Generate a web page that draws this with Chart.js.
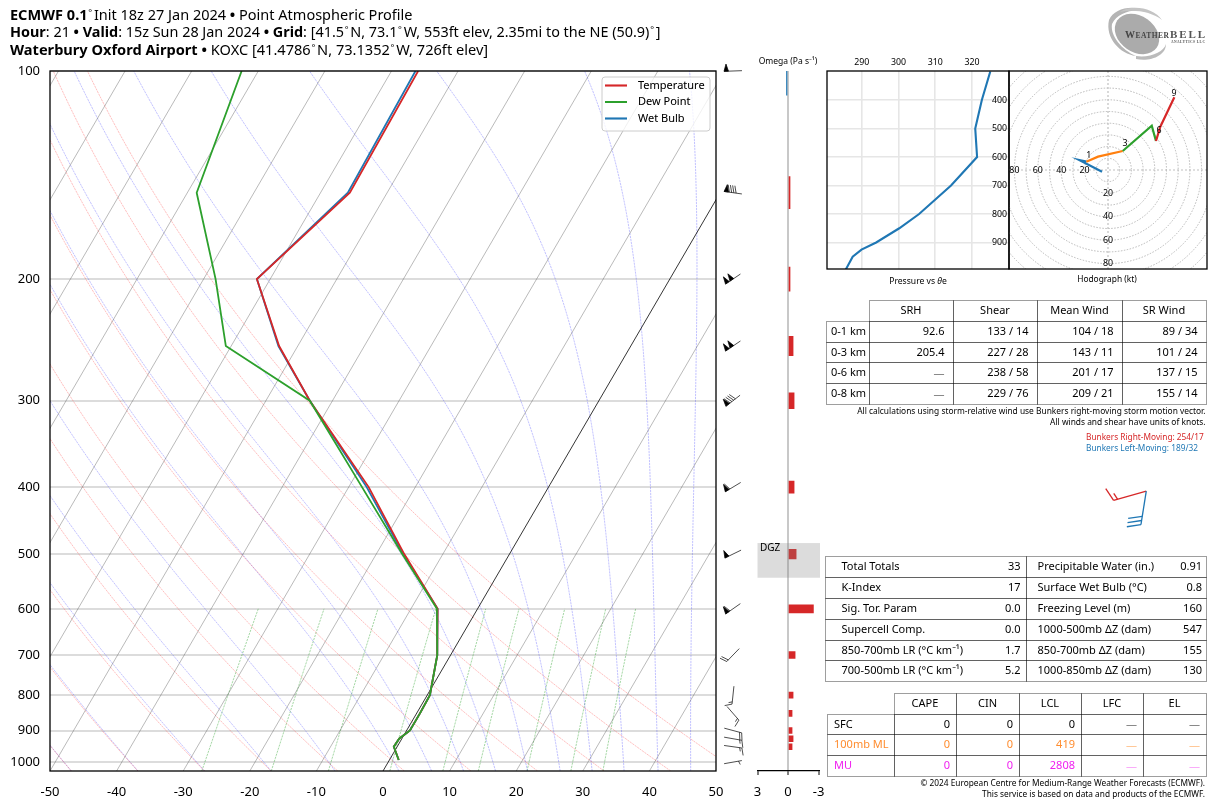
<!DOCTYPE html>
<html><head><meta charset="utf-8">
<script src="https://cdn.jsdelivr.net/npm/chart.js@4"></script>
<style>
html,body{margin:0;padding:0;background:#fff;width:1226px;height:808px;overflow:hidden;font-family:"Noto Sans",sans-serif;color:#000}
canvas{position:absolute;left:0;top:0}
.t{position:absolute;white-space:nowrap;line-height:1}
.c{position:absolute;box-sizing:border-box;border:1px solid rgba(0,0,0,.38)}
</style></head><body>
<script>
// ---- profile data (deg C at pressure levels, hPa)
const tempLevels=[100,150,200,250,300,400,500,600,700,800,850,900,925,950,993];
const temperature=[-56,-55.6,-62,-52.8,-43.4,-27,-15.8,-6,-2,0.4,0.5,0.5,-0.4,-0.5,1.4];
const dewPoint=[-82.5,-78.6,-68.2,-60.8,-43.4,-28,-16.1,-6.1,-2,0.4,0.5,0.5,-0.4,-0.5,1.4];
const wetBulb=[-56.4,-55.9,-62,-52.9,-43.4,-27.3,-15.95,-6,-2,0.4,0.5,0.5,-0.4,-0.5,1.4];
const pressureTicks=[100,200,300,400,500,600,700,800,900,1000];
const tempTicks=[-50,-40,-30,-20,-10,0,10,20,30,40,50];
// ---- reference-grid families of the diagram (values at the base of the diagram)
const isotherms=[-170,-160,-150,-140,-130,-120,-110,-100,-90,-80,-70,-60,-50,-40,-30,-20,-10,10,20,30,40,50];
const dryBase=[-46.8,-36.8,-26.8,-16.8,-6.8,3.2,13.2,23.2,33.2,43.2,53.2];
const moistBase=[-46.8,-36.8,-26.8,-16.8,-7.2,2.4,7.3,12.1,16.9,21.7,26.6,31.4,36.2,41.3,46.2];
const mixingRatios=[0.0004,0.001,0.002,0.004,0.007,0.01,0.016,0.024,0.032];
// ---- wind barbs
const windLevels=[100,150,200,250,300,400,500,600,700,800,850,900,925,950,1000];
const windDir=[268,278,236,236,232,239,244,235,224,186,139,105,100,98,80];
const windSpeed=[50,90,100,100,90,60,50,60,20,15,15,20,15,15,5];
// ---- omega
const omegaLevels=[100,150,200,250,300,400,500,600,700,800,850,900,925,950];
const omega=[0.15,-0.2,-0.2,-0.5,-0.6,-0.6,-0.8,-2.5,-0.7,-0.5,-0.4,-0.4,-0.5,-0.4];
const omegaTicks=[3,0,-3];
const dgzLayer=[482,541];
// ---- theta-e profile
const thetaLevels=[300,400,500,600,700,800,850,900,925,950,1000];
const thetaE=[325,322.7,320.9,321.4,314.3,305.6,300.2,293.9,289.9,287.5,285.4];
const thetaTicks=[290,300,310,320];
const thetaPressureTicks=[400,500,600,700,800,900];
// ---- hodograph (u, v in kt)
const hodoU01=[-5.1,-24.3,-18.5];const hodoV01=[-1.5,8.4,7.1];
const hodoU13=[-18.5,-8.5,12.6];const hodoV13=[7.1,11.4,16.2];
const hodoU36=[12.6,37.4,41];const hodoV36=[16.2,37.8,24.8];
const hodoU69=[41,44.7,56.7];const hodoV69=[24.8,37,62.1];
const hodoMarks=['1','3','6','9'];
const hodoMarkU=[-16.5,14.5,43.5,56.5];const hodoMarkV=[12.5,22.5,34,65.5];
const hodoRingLabels=[20,40,60,80];
const bunkers=[{dir:254,speed:15,color:'#d62728'},{dir:189,speed:30,color:'#1f77b4'}];

// ---- texts
const srhHead=['SRH','Shear','Mean Wind','SR Wind'];
const srhRows=[['0-1 km','92.6','133 / 14','104 / 18','89 / 34'],['0-3 km','205.4','227 / 28','143 / 11','101 / 24'],['0-6 km','—','238 / 58','201 / 17','137 / 15'],['0-8 km','—','229 / 76','209 / 21','155 / 14']];
const idxRows=[['Total Totals','33','Precipitable Water (in.)','0.91'],['K-Index','17','Surface Wet Bulb (°C)','0.8'],['Sig. Tor. Param','0.0','Freezing Level (m)','160'],['Supercell Comp.','0.0','1000-500mb ΔZ (dam)','547'],['850-700mb LR (°C km⁻¹)','1.7','850-700mb ΔZ (dam)','155'],['700-500mb LR (°C km⁻¹)','5.2','1000-850mb ΔZ (dam)','130']];
const capeHead=['CAPE','CIN','LCL','LFC','EL'];
const capeRows=[['SFC','0','0','0','—','—'],['100mb ML','0','0','419','—','—'],['MU','0','0','2808','—','—']];
const capeColors=['#000','#ff8c2e','#f020f0'];
const capeDashColors=['#777','#ffc08a','#f8a0f8'];

const FONT='"Noto Sans"';
Chart.defaults.font.family=FONT;
Chart.defaults.animation=false;
Chart.defaults.responsive=false;
Chart.defaults.devicePixelRatio=1;
Chart.defaults.plugins.legend.display=false;
Chart.defaults.plugins.tooltip.enabled=false;

function newCanvas(){const c=document.createElement('canvas');c.width=1226;c.height=808;document.body.appendChild(c);return c.getContext('2d');}
function text(s,x,y,o={}){const d=document.createElement('div');d.className='t';d.innerHTML=s;d.style.left=x+'px';d.style.top=y+'px';
 d.style.fontSize=(o.size||10)+'px';if(o.color)d.style.color=o.color;if(o.weight)d.style.fontWeight=o.weight;
 const tx=o.align==='r'?'-100%':o.align==='c'?'-50%':'0';d.style.transform=`translate(${tx},-50%)`;document.body.appendChild(d);return d;}
function cell(x0,y0,x1,y1){const d=document.createElement('div');d.className='c';d.style.left=x0+'px';d.style.top=y0+'px';d.style.width=(x1-x0+1)+'px';d.style.height=(y1-y0+1)+'px';document.body.appendChild(d);}

// ---- skew geometry
const SKEW=60.5,PBASE=1030;
const skewX=(t,p)=>t+SKEW*Math.log10(PBASE/p);
const pts=(ts,ps)=>ts.map((t,i)=>({x:skewX(t,ps[i]),y:ps[i]}));
const bgLevels=[];for(let p=PBASE;p>=99;p*=0.97)bgLevels.push(p);bgLevels.push(100);
function bg(data,color,width,dash){return {type:'scatter',showLine:true,data,borderColor:color,borderWidth:width,borderDash:dash||[],pointRadius:0,order:10};}
function dryLine(t0){return bgLevels.map(p=>({x:skewX((t0+273.15)*Math.pow(p/PBASE,0.286)-273.15,p),y:p}));}
function moistLine(t0){let T=t0+273.15,out=[];for(let i=0;i<bgLevels.length;i++){const p=bgLevels[i];out.push({x:skewX(T-273.15,p),y:p});
  if(i<bgLevels.length-1){const es=6.112*Math.exp(17.67*(T-273.15)/(T-29.65)),rs=0.622*es/Math.max(p-es,1),Lv=2.46e6,Rd=287,Cp=1005;
   const g=(Rd*T+Lv*rs)/(Cp+Lv*Lv*rs*0.622/(Rd*T*T));T+=g*Math.log(bgLevels[i+1]/p);}}return out;}
function mixLine(w){return [PBASE,950,900,850,800,750,700,650,600].map(p=>{const e=p*w/(0.622+w),l=Math.log(e/6.112);return {x:skewX(243.5*l/(17.67-l),p),y:p};});}

function drawBarb(ctx,cx,cy,dir,speed,L,color,lw,pivot){
 const r=dir*Math.PI/180,dx=Math.sin(r),dy=-Math.cos(r),px=-dy,py=dx;
 const sx=pivot==='tip'?cx:cx-dx*L/2,sy=pivot==='tip'?cy:cy-dy*L/2,ex=sx+dx*L,ey=sy+dy*L;
 const sp=0.125*L,h=0.4*L,w=0.25*L;
 ctx.save();ctx.strokeStyle=color;ctx.fillStyle=color;ctx.lineWidth=lw;ctx.lineCap='butt';
 ctx.beginPath();ctx.moveTo(sx,sy);ctx.lineTo(ex,ey);ctx.stroke();
 let s=Math.round(speed/5)*5,pos=0;const pen=Math.floor(s/50);s-=pen*50;const full=Math.floor(s/10);s-=full*10;const half=s>=5;
 for(let i=0;i<pen;i++){ctx.beginPath();ctx.moveTo(ex-dx*pos,ey-dy*pos);ctx.lineTo(ex-dx*(pos+w),ey-dy*(pos+w));ctx.lineTo(ex-dx*(pos+w/2)+px*h,ey-dy*(pos+w/2)+py*h);ctx.closePath();ctx.fill();ctx.stroke();pos+=w+sp*0.4;}
 for(let i=0;i<full;i++){ctx.beginPath();ctx.moveTo(ex-dx*pos,ey-dy*pos);ctx.lineTo(ex-dx*(pos-w/2)+px*h,ey-dy*(pos-w/2)+py*h);ctx.stroke();pos+=sp;}
 if(half){if(!pen&&!full)pos=1.5*sp;ctx.beginPath();ctx.moveTo(ex-dx*pos,ey-dy*pos);ctx.lineTo(ex-dx*(pos-w/4)+px*h/2,ey-dy*(pos-w/4)+py*h/2);ctx.stroke();}
 ctx.restore();}
const frame=(ctx,a,lw=1.3)=>{ctx.save();ctx.strokeStyle='#000';ctx.lineWidth=lw;ctx.strokeRect(a.left,a.top,a.right-a.left,a.bottom-a.top);ctx.restore();};

// ================= Skew-T =================
const skewDatasets=[
 {type:'scatter',showLine:true,label:'Temperature',data:pts(temperature,tempLevels),borderColor:'#d62728',borderWidth:1.8,pointRadius:0,order:1},
 {type:'scatter',showLine:true,label:'Dew Point',data:pts(dewPoint,tempLevels),borderColor:'#2ca02c',borderWidth:1.8,pointRadius:0,order:0},
 {type:'scatter',showLine:true,label:'Wet Bulb',data:pts(wetBulb,tempLevels),borderColor:'#1f77b4',borderWidth:1.8,pointRadius:0,order:2},
 bg(pts([0,0],[PBASE,100]),'#000',0.8),
 ...isotherms.map(t=>bg(pts([t,t],[PBASE,100]),'rgba(90,90,90,.6)',0.7)),
 ...dryBase.map(t=>bg(dryLine(t),'rgba(255,60,60,.55)',0.6,[2.2,0.8])),
 ...moistBase.map(t=>bg(moistLine(t),'rgba(70,70,255,.55)',0.6,[2.2,0.8])),
 ...mixingRatios.map(w=>bg(mixLine(w),'rgba(40,160,40,.7)',0.6,[2.2,1])),
];
const LEGEND_NAMES=['Temperature','Dew Point','Wet Bulb'];
new Chart(newCanvas(),{type:'scatter',data:{datasets:skewDatasets},
 options:{layout:{padding:{left:10,top:71,right:510,bottom:7}},
 scales:{
  x:{type:'linear',min:-50,max:50,afterBuildTicks:s=>{s.ticks=tempTicks.map(v=>({value:v}));},afterFit:s=>{s.height=30;},
     grid:{display:false},border:{display:false},ticks:{padding:5,maxRotation:0,autoSkip:false,color:'#000',font:{size:13}}},
  y:{type:'logarithmic',reverse:true,min:100,max:PBASE,afterBuildTicks:s=>{s.ticks=pressureTicks.map(v=>({value:v}));},afterFit:s=>{s.width=40;},
     grid:{color:'#dcdcdc',lineWidth:2,drawTicks:false},border:{display:false},ticks:{padding:10,autoSkip:false,color:'#000',font:{size:13},callback:v=>String(v)}}},
 plugins:{legend:{display:true,position:'chartArea',align:'start',labels:{usePointStyle:true,pointStyle:'line',pointStyleWidth:22,padding:5.5,color:'#000',font:{size:11},
   generateLabels:ch=>Chart.defaults.plugins.legend.labels.generateLabels(ch).filter(i=>LEGEND_NAMES.includes(i.text)).map(i=>({...i,text:'\u2002'+i.text})),
   sort:(a,b)=>a.datasetIndex-b.datasetIndex}}}},
 plugins:[{id:'skewExtras',
  afterLayout(ch){const l=ch.legend;l.left=599.5;l.top=74.5;l.bottom=160;},
  afterDatasetsDraw(ch){const c=ch.ctx;c.save();c.fillStyle='rgba(255,255,255,.8)';c.strokeStyle='#ccc';c.lineWidth=1;c.beginPath();c.roundRect(602,77,108,54,3);c.fill();c.stroke();c.restore();ch.legend.draw();},
  afterDraw(ch){frame(ch.ctx,ch.chartArea);
   windLevels.forEach((p,i)=>drawBarb(ch.ctx,ch.scales.x.getPixelForValue(52.55),ch.scales.y.getPixelForValue(p),windDir[i],windSpeed[i],18,'#000',0.7,'middle'));}}]});

// ================= Omega =================
const PX_PER_DECADE=691;
new Chart(newCanvas(),{type:'bar',data:{datasets:omegaLevels.map((p,i)=>({data:[{x:[0,omega[i]],y:p}],backgroundColor:omega[i]<0?'#d62728':'#1f77b4',grouped:false,barThickness:Math.max(PX_PER_DECADE*Math.log10((p+8)/(p-8)),6)}))},
 options:{indexAxis:'y',layout:{padding:{left:757.5,top:71,right:407.5,bottom:7}},
 scales:{
  x:{type:'linear',reverse:true,min:-3,max:3,afterBuildTicks:s=>{s.ticks=omegaTicks.map(v=>({value:v}));},afterFit:s=>{s.height=30;},
     grid:{color:c=>c.tick&&c.tick.value===0?'#c8c8c8':'rgba(0,0,0,0)',lineWidth:2,tickLength:4,tickColor:'#000',tickWidth:1},border:{display:true,color:'#000',width:1.2},ticks:{padding:9,maxRotation:0,autoSkip:false,color:'#000',font:{size:13},callback:v=>String(v)}},
  y:{type:'logarithmic',reverse:true,min:100,max:PBASE,display:false}}},
 plugins:[{id:'dgz',afterDatasetsDraw(ch){const {x,y}=ch.scales,c=ch.ctx;const y0=y.getPixelForValue(dgzLayer[0]),y1=y.getPixelForValue(dgzLayer[1]);c.save();c.fillStyle='rgba(128,128,128,.28)';c.fillRect(x.left,y0,x.right-x.left+1.5,y1-y0);c.restore();}}]});
text('DGZ',760,547,{size:10});
text('Omega (Pa s⁻¹)',788,61,{size:8.5,align:'c'});

// ================= Theta-e =================
new Chart(newCanvas(),{type:'scatter',data:{datasets:[{showLine:true,data:thetaE.map((t,i)=>({x:t,y:thetaLevels[i]})),borderColor:'#1f77b4',borderWidth:2.1,pointRadius:0}]},
 options:{layout:{padding:{left:827,top:41,right:217,bottom:539}},
 scales:{
  x:{type:'linear',position:'top',min:280.5,max:330.1,afterBuildTicks:s=>{s.ticks=thetaTicks.map(v=>({value:v}));},afterFit:s=>{s.height=30;},
     grid:{color:'#e6e6e6',lineWidth:1.6,drawTicks:false},border:{display:false},ticks:{padding:3,maxRotation:0,autoSkip:false,color:'#000',font:{size:8.8}}},
  y:{type:'linear',position:'right',reverse:true,min:298,max:993,afterBuildTicks:s=>{s.ticks=thetaPressureTicks.map(v=>({value:v}));},afterFit:s=>{s.width=0;},
     grid:{color:'#e6e6e6',lineWidth:1.6,drawTicks:false},border:{display:false},ticks:{mirror:true,padding:-2,autoSkip:false,color:'#000',font:{size:8.8}}}}},
 plugins:[{id:'tf',afterDraw(ch){frame(ch.ctx,ch.chartArea);}}]});
text('Pressure vs <i>θ</i>e',918,281,{size:8.6,align:'c'});

// ================= Hodograph =================
const hp=(u,v)=>u.map((a,i)=>({x:a,y:v[i]}));
const hline=(u,v,c)=>({showLine:true,data:hp(u,v),borderColor:c,borderWidth:2.2,pointRadius:0});
new Chart(newCanvas(),{type:'scatter',data:{datasets:[hline(hodoU69,hodoV69,'#d62728'),hline(hodoU36,hodoV36,'#2ca02c'),hline(hodoU13,hodoV13,'#ff7f0e'),hline(hodoU01,hodoV01,'#1f77b4')]},
 options:{layout:{padding:{left:1009,top:71,right:19,bottom:539}},
 scales:{x:{type:'linear',min:-84.6,max:84.6,display:false},y:{type:'linear',min:-84.6,max:84.6,display:false}}},
 plugins:[{id:'hodo',
  beforeDatasetsDraw(ch){const {x,y}=ch.scales,c=ch.ctx,a=ch.chartArea;c.save();c.beginPath();c.rect(a.left,a.top,a.width,a.height);c.clip();c.strokeStyle='#a8a8a8';c.lineWidth=0.8;c.setLineDash([1.5,1.5]);
    const x0=x.getPixelForValue(0),y0=y.getPixelForValue(0);
    for(let r=10;r<=120;r+=10){c.beginPath();c.arc(x0,y0,x.getPixelForValue(r)-x0,0,Math.PI*2);c.stroke();}
    c.strokeStyle='#c0c0c0';c.lineWidth=1.2;c.setLineDash([2,2]);c.beginPath();c.moveTo(a.left,y0);c.lineTo(a.right,y0);c.moveTo(x0,a.top);c.lineTo(x0,a.bottom);c.stroke();c.restore();},
  afterDatasetsDraw(ch){const {x,y}=ch.scales,c=ch.ctx;c.save();c.fillStyle='#000';c.font='8.8px '+FONT;c.textAlign='center';c.textBaseline='middle';
    hodoRingLabels.forEach(v=>{c.fillText(String(v),x.getPixelForValue(-v),y.getPixelForValue(0));c.fillText(String(v),x.getPixelForValue(0),y.getPixelForValue(-v));});
    hodoMarks.forEach((m,i)=>c.fillText(m,x.getPixelForValue(hodoMarkU[i]),y.getPixelForValue(hodoMarkV[i])));c.restore();},
  afterDraw(ch){const {x,y}=ch.scales;frame(ch.ctx,ch.chartArea);
    bunkers.forEach(b=>drawBarb(ch.ctx,x.getPixelForValue(32.7),y.getPixelForValue(-274.4),b.dir,b.speed,34,b.color,1.3,'tip'));}}]});
text('Hodograph (kt)',1107,279,{size:8.4,align:'c'});

// ================= Titles =================
const DEG='<span style="font-size:.62em;position:relative;top:-.45em;margin:0 .2em 0 .08em">°</span>';
text(`<b>ECMWF 0.1</b>${DEG}Init 18z 27 Jan 2024 <b>•</b> Point Atmospheric Profile`,10,14,{size:14.5});
text(`<b>Hour</b>: 21 <b>•</b> <b>Valid</b>: 15z Sun 28 Jan 2024 <b>•</b> <b>Grid</b>: [41.5${DEG}N, 73.1${DEG}W, 553ft elev, 2.35mi to the NE (50.9)${DEG}]`,10,32,{size:14.4});
text(`<b>Waterbury Oxford Airport</b> <b>•</b> KOXC [41.4786${DEG}N, 73.1352${DEG}W, 726ft elev]`,10,49,{size:14.6});

// ================= Tables =================
const TS=11;
const srhX=[826,869,953,1037,1122,1206],srhY=[300,321,342,362,383,404];
for(let c=1;c<5;c++)cell(srhX[c],srhY[0],srhX[c+1],srhY[1]);
for(let r=1;r<5;r++)for(let c=0;c<5;c++)cell(srhX[c],srhY[r],srhX[c+1],srhY[r+1]);
srhHead.forEach((h,c)=>text(h,(srhX[c+1]+srhX[c+2])/2,309,{size:TS,align:'c'}));
srhRows.forEach((row,r)=>{const yy=(srhY[r+1]+srhY[r+2])/2-1.2;text(row[0],831,yy,{size:TS});
 row.slice(1).forEach((v,c)=>text(v,srhX[c+2]-8.5,yy+(v==='—'?0.5:0),{size:TS,align:'r',color:v==='—'?'#777':'#000'}));});
text('All calculations using storm-relative wind use Bunkers right-moving storm motion vector.',1205.5,411,{size:8.4,align:'r'});
text('All winds and shear have units of knots.',1205.5,422,{size:8.4,align:'r'});
text('Bunkers Right-Moving: 254/17',1086,437,{size:8.3,color:'#d62728'});
text('Bunkers Left-Moving: 189/32',1086,448,{size:8.3,color:'#1f77b4'});

const idxY=[556,577,598,619,640,660,681];
idxRows.forEach((row,r)=>{cell(825,idxY[r],1026,idxY[r+1]);cell(1026,idxY[r],1206,idxY[r+1]);
 const yy=(idxY[r]+idxY[r+1])/2-1.4;text(row[0],841.5,yy,{size:TS});text(row[1],1020.5,yy,{size:TS,align:'r'});text(row[2],1037.5,yy,{size:TS});text(row[3],1202,yy,{size:TS,align:'r'});});

const capeX=[827,894,956,1019,1081,1143,1206],capeY=[693,714,734,755,776];
for(let c=1;c<6;c++)cell(capeX[c],capeY[0],capeX[c+1],capeY[1]);
for(let r=1;r<4;r++)for(let c=0;c<6;c++)cell(capeX[c],capeY[r],capeX[c+1],capeY[r+1]);
capeHead.forEach((h,c)=>text(h,(capeX[c+1]+capeX[c+2])/2,702,{size:TS,align:'c'}));
capeRows.forEach((row,r)=>{const yy=(capeY[r+1]+capeY[r+2])/2-1.4;text(row[0],834,yy,{size:TS,color:capeColors[r]});
 row.slice(1).forEach((v,c)=>text(v,capeX[c+2]-6,yy+(v==='—'?0.5:0),{size:TS,align:'r',color:v==='—'?capeDashColors[r]:capeColors[r]}));});
text('© 2024 European Centre for Medium-Range Weather Forecasts (ECMWF).',1205,782.5,{size:8.3,align:'r'});
text('This service is based on data and products of the ECMWF.',1205,794,{size:8.3,align:'r'});

// ================= Logo =================
const logo=document.createElement('div');logo.style.cssText='position:absolute;left:1100px;top:0;width:126px;height:70px';
logo.innerHTML=`<svg width="126" height="70" xmlns="http://www.w3.org/2000/svg">
<ellipse cx="37" cy="34" rx="24" ry="18" fill="#ababab" transform="rotate(35 37 34)"/>
<path d="M9 20 C14 8 34 4 48 12 C34 8 18 12 12 24 C10 36 22 50 36 56 C20 54 5 38 9 20Z" fill="#b5b5b5"/>
<path d="M36 59 C50 62 66 56 66 44 C64 52 50 58 36 56Z" fill="#bbb"/>
<path d="M20 12 C32 4 54 8 62 20 C52 12 34 9 20 12Z" fill="#c4c4c4"/>
<text x="25" y="38" font-family="Liberation Serif" font-weight="bold" font-size="10" fill="#444" textLength="44">W<tspan font-size="7.5">EATHER</tspan></text>
<text x="70" y="38" font-family="Liberation Serif" font-weight="bold" font-size="11" fill="#555" textLength="35">BELL</text>
<text x="71" y="43" font-family="Liberation Serif" font-weight="bold" font-size="3.6" fill="#555" textLength="34">ANALYTICS LLC</text></svg>`;
document.body.appendChild(logo);
</script></body></html>
